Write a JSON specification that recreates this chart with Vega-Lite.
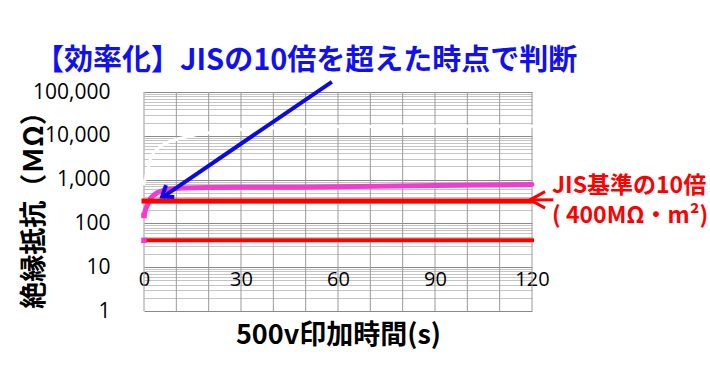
{
  "$schema": "https://vega.github.io/schema/vega-lite/v6.json",
  "width": 388,
  "height": 219,
  "autosize": "none",
  "padding": {"left": 144, "top": 92, "right": 178, "bottom": 69},
  "background": "#ffffff",
  "title": {
    "text": "【効率化】JISの10倍を超えた時点で判断",
    "anchor": "start",
    "frame": "group",
    "dx": -109,
    "offset": 4,
    "font": "Noto Sans CJK JP",
    "fontSize": 29,
    "fontWeight": "bold",
    "color": "#1010f0"
  },
  "config": {
    "view": {"stroke": null},
    "font": "Noto Sans CJK JP"
  },
  "datasets": {
    "series": [
      {"t": 0, "v": 800, "s": "white"},
      {"t": 1, "v": 1600, "s": "white"},
      {"t": 2, "v": 3000, "s": "white"},
      {"t": 3, "v": 4200, "s": "white"},
      {"t": 5, "v": 5700, "s": "white"},
      {"t": 8, "v": 7500, "s": "white"},
      {"t": 11, "v": 8700, "s": "white"},
      {"t": 17, "v": 11000, "s": "white"},
      {"t": 28, "v": 13700, "s": "white"},
      {"t": 48, "v": 16000, "s": "white"},
      {"t": 80, "v": 16500, "s": "white"},
      {"t": 120, "v": 16500, "s": "white"},
      {"t": 0, "v": 152, "s": "pink"},
      {"t": 0.5, "v": 210, "s": "pink"},
      {"t": 1, "v": 257, "s": "pink"},
      {"t": 2, "v": 373, "s": "pink"},
      {"t": 3, "v": 440, "s": "pink"},
      {"t": 4, "v": 500, "s": "pink"},
      {"t": 6, "v": 570, "s": "pink"},
      {"t": 8, "v": 610, "s": "pink"},
      {"t": 12, "v": 640, "s": "pink"},
      {"t": 20, "v": 660, "s": "pink"},
      {"t": 30, "v": 665, "s": "pink"},
      {"t": 48, "v": 665, "s": "pink"},
      {"t": 60, "v": 690, "s": "pink"},
      {"t": 90, "v": 730, "s": "pink"},
      {"t": 120, "v": 770, "s": "pink"}
    ],
    "vgrid": [
      {"t": 0}, {"t": 10}, {"t": 20}, {"t": 30}, {"t": 40}, {"t": 50}, {"t": 60},
      {"t": 70}, {"t": 80}, {"t": 90}, {"t": 100}, {"t": 110}, {"t": 120}
    ]
  },
  "layer": [
    {
      "data": {"name": "vgrid"},
      "mark": {"type": "rule", "color": "#9a9a9a", "strokeWidth": 1},
      "encoding": {
        "x": {
          "field": "t", "type": "quantitative",
          "scale": {"domain": [0, 120], "nice": false},
          "axis": {
            "values": [0, 30, 60, 90, 120],
            "labelOverlap": false,
            "grid": false,
            "domain": false, "ticks": false,
            "offset": -41,
            "labelFont": "Open Sans", "labelFontSize": 20, "labelColor": "#000000",
            "labelPadding": -1, "labelBaseline": "top", "labelFlush": false,
            "title": "500v印加時間(s)",
            "titleFont": "Noto Sans CJK JP", "titleFontSize": 27, "titleFontWeight": "bold",
            "titleColor": "#000000", "titleBaseline": "middle", "titleY": 65
          }
        }
      }
    },
    {
      "data": {"name": "series"},
      "mark": {"type": "line", "strokeCap": "round", "strokeJoin": "round"},
      "encoding": {
        "x": {"field": "t", "type": "quantitative"},
        "y": {
          "field": "v", "type": "quantitative",
          "scale": {"type": "log", "domain": [1, 100000], "nice": false},
          "axis": {
            "values": [1,2,3,4,5,6,7,8,9,10,20,30,40,50,60,70,80,90,100,200,300,400,500,600,700,800,900,1000,2000,3000,4000,5000,6000,7000,8000,9000,10000,20000,30000,40000,50000,60000,70000,80000,90000,100000],
            "format": ",",
            "labelExpr": "indexof([1,10,100,1000,10000,100000], datum.value) >= 0 ? datum.label : ''",
            "grid": true,
            "gridColor": {"condition": {"test": "indexof([1,10,100,1000,10000,100000], datum.value) >= 0", "value": "#8a8a8a"}, "value": "#c4c4c4"},
            "gridWidth": 1,
            "domain": false, "ticks": false,
            "labelFont": "Open Sans", "labelFontSize": 21, "labelColor": "#000000",
            "labelPadding": 34, "labelFlush": false, "labelOverlap": false,
            "title": "絶縁抵抗（ＭΩ）",
            "titleFont": "Noto Sans CJK JP", "titleFontSize": 27, "titleFontWeight": "bold",
            "titleColor": "#000000", "titleAngle": -90, "titleBaseline": "middle",
            "titleAlign": "center", "titleX": -110, "titleY": 111
          }
        },
        "color": {
          "field": "s", "type": "nominal",
          "scale": {"domain": ["white", "pink"], "range": ["#ffffff", "#f23bd0"]},
          "legend": null
        },
        "strokeWidth": {
          "field": "s", "type": "nominal",
          "scale": {"domain": ["white", "pink"], "range": [3, 5]},
          "legend": null
        }
      }
    },
    {
      "data": {"values": [{"level": 325}]},
      "mark": {"type": "rule", "color": "#ff0000", "strokeCap": "square", "strokeWidth": 5},
      "encoding": {
        "y": {"field": "level", "type": "quantitative"},
        "x": {"datum": 0},
        "x2": {"datum": 120}
      }
    },
    {
      "data": {"values": [{"level": 41}]},
      "mark": {"type": "rule", "color": "#ff0000", "strokeCap": "square", "strokeWidth": 4},
      "encoding": {
        "y": {"field": "level", "type": "quantitative"},
        "x": {"datum": 0},
        "x2": {"datum": 120}
      }
    },
    {
      "data": {"values": [{"t": 0, "v": 41}, {"t": 0, "v": 152}]},
      "mark": {"type": "square", "color": "#f23bd0", "size": 30, "opacity": 1},
      "encoding": {
        "x": {"field": "t", "type": "quantitative"},
        "y": {"field": "v", "type": "quantitative"}
      }
    },
    {
      "data": {"values": [{"x1": 58.1, "y1": 170000, "x2": 5.9, "y2": 405}]},
      "mark": {"type": "rule", "color": "#0a0ae6", "strokeWidth": 4, "clip": false},
      "encoding": {
        "x": {"field": "x1", "type": "quantitative"},
        "y": {"field": "y1", "type": "quantitative"},
        "x2": {"field": "x2"},
        "y2": {"field": "y2"}
      }
    },
    {
      "data": {"values": [{"x": 5.6, "y": 410}]},
      "mark": {"type": "point", "shape": "M-1,-0.75L0,0L-1,0.75", "filled": false, "stroke": "#0a0ae6", "strokeWidth": 4, "size": 380, "angle": 145.7, "opacity": 1, "strokeJoin": "miter", "clip": false},
      "encoding": {
        "x": {"field": "x", "type": "quantitative"},
        "y": {"field": "y", "type": "quantitative"}
      }
    },
    {
      "data": {"values": [{"x1": 119.6, "x2": 126.6, "y": 345}]},
      "mark": {"type": "rule", "color": "#ff0000", "strokeWidth": 3, "clip": false},
      "encoding": {
        "x": {"field": "x1", "type": "quantitative"},
        "x2": {"field": "x2"},
        "y": {"field": "y", "type": "quantitative"}
      }
    },
    {
      "data": {"values": [{"x": 119.4, "y": 345}]},
      "mark": {"type": "point", "shape": "M1,-0.55L0,0L1,0.55", "filled": false, "stroke": "#ff0000", "strokeWidth": 3, "size": 900, "opacity": 1, "clip": false},
      "encoding": {
        "x": {"field": "x", "type": "quantitative"},
        "y": {"field": "y", "type": "quantitative"}
      }
    },
    {
      "data": {"values": [
        {"t": 126.2, "v": 730, "label": "JIS基準の10倍"},
        {"t": 126.2, "v": 145, "label": "( 400MΩ・m²)"}
      ]},
      "mark": {"type": "text", "align": "left", "baseline": "middle", "color": "#ff0000", "font": "Noto Sans CJK JP", "fontSize": 23, "fontWeight": "bold", "clip": false},
      "encoding": {
        "x": {"field": "t", "type": "quantitative"},
        "y": {"field": "v", "type": "quantitative"},
        "text": {"field": "label"}
      }
    }
  ]
}
